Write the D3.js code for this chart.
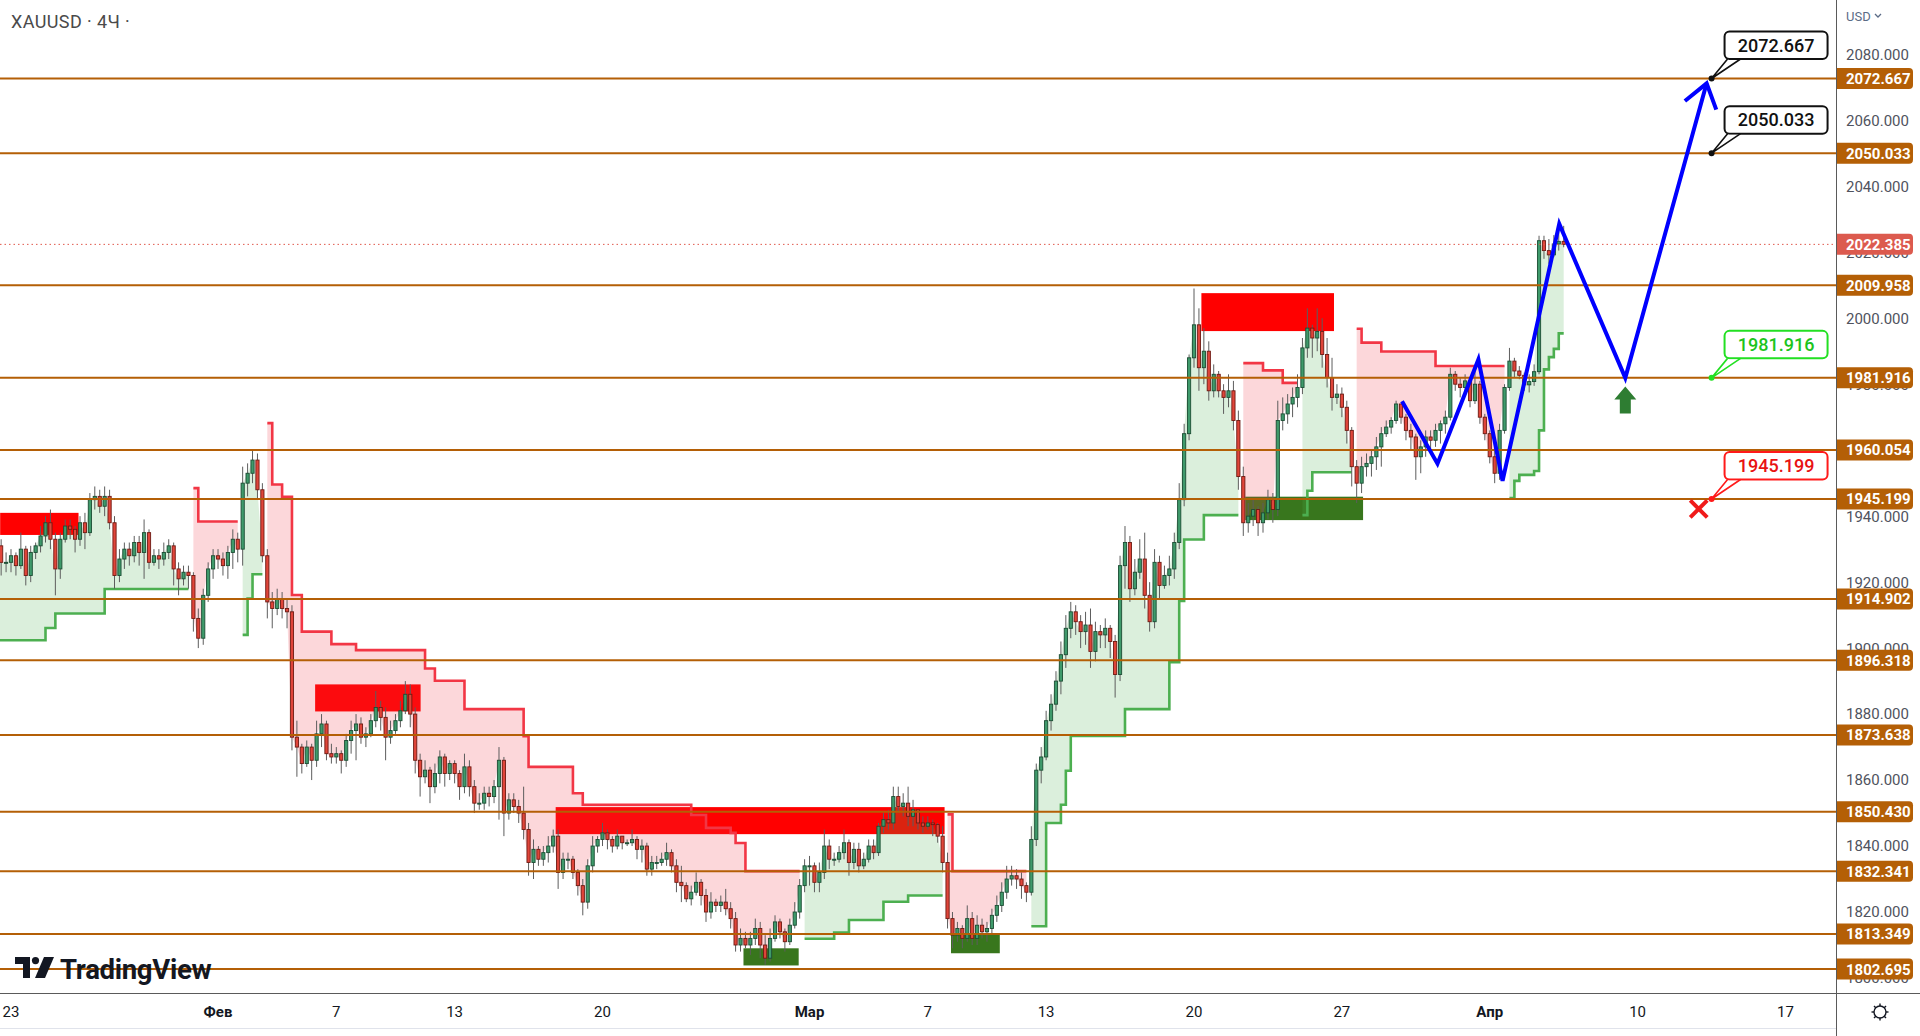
<!DOCTYPE html>
<html><head><meta charset="utf-8">
<script src="https://cdn.jsdelivr.net/npm/d3@7"></script>
<style>html,body{margin:0;padding:0;background:#fff;overflow:hidden}svg{display:block;font-family:Roboto,"Noto Sans",sans-serif}</style>
</head><body>
<svg id="chart" width="1920" height="1036"></svg>
<script>
// ---------------- DATA ----------------
const symbolTitle = "XAUUSD · 4Ч ·";
const firstOpen = 1928;
// 4H closes, from Jan 20 (last 3 bars) through Apr 5
const closes = [
1931,1926,1926,
1928,1925,1930,1922,1929,1931,
1934,1938,1933,1924,1933,1937,
1936,1933,1938,1935,1945,1946,
1943,1946,1938,1922,1927,1930,
1928,1932,1929,1935,1926,1928,
1927,1929,1931,1924,1921,1923,
1922,1909,1903,1916,1924,1928,
1927,1925,1929,1933,1930,1950,
1953,1957,1948,1928,1914,1912,
1915,1912,1911,1873,1870,1865,
1870,1866,1874,1877,1868,1867,
1868,1866,1872,1875,1877,1873,
1874,1878,1882,1879,1873,1875,
1878,1881,1886,1880,1866,1861,
1863,1858,1862,1867,1862,1865,
1862,1858,1864,1858,1853,1853,
1856,1855,1858,1866,1850,1854,
1852,1850,1845,1835,1839,1836,
1838,1840,1843,1832,1836,1836,
1832,1828,1823,1834,1840,1842,
1844,1842,1840,1843,1841,1841,
1842,1839,1840,1833,1835,1835,
1836,1838,1834,1829,1828,1824,
1826,1829,1825,1820,1823,1822,
1823,1821,1818,1810,1812,1810,
1812,1815,1810,1806,1812,1817,
1814,1811,1816,1820,1828,1834,
1834,1829,1832,1840,1836,1836,
1838,1841,1835,1839,1834,1836,
1840,1838,1846,1848,1847,1855,
1852,1853,1849,1851,1847,1846,
1847,1846.5,1843,1835,1818,1813,
1815,1812,1818,1812,1816,1814,
1815,1819,1822,1826,1830,1831,
1830,1828,1826,1842,1863,1867,
1878,1883,1890,1898,1906,1911,
1908,1905,1907,1899,1905,1904,
1906,1902,1892,1925,1932,1918,
1923,1927,1916,1908,1926,1919,
1922,1924,1932,1945,1965,1988,
1998,1985,1990,1978,1983,1978,
1976,1978,1969,1952,1938,1940,
1942,1938,1941,1945,1942,1969,
1971,1974,1976,1979,1991,1997,
1994,1996,1989,1982,1976,1977,
1973,1966,1955,1950,1955,1956,
1958,1961,1965,1967,1969,1974,
1970,1966,1964,1958,1961,1964,
1963,1966,1968,1970,1983,1980,
1979,1981,1975,1980,1970,1965,
1958,1953,1966,1979,1987,1984,
1982.7,1979.8,1980.8,1983.8,2023.5,2020.5,
2019.2,2022.5,2023.3,2022.385];
const highs = [
1935,1933,1929,
1930,1929,1935,1931,1931,1932,
1937,1940,1942,1935,1935,1939,
1939,1937,1940,1941,1947,1949,
1948,1949,1948,1940,1930,1932,
1932,1934,1934,1939,1936,1930,
1930,1932,1933,1932,1926,1925,
1925,1923,1912,1918,1926,1930,
1930,1929,1931,1936,1935,1955,
1956,1960,1959,1950,1930,1917,
1918,1917,1915,1913,1878,1871,
1872,1871,1878,1880,1878,1871,
1870,1869,1874,1878,1880,1879,
1876,1880,1887,1884,1882,1878,
1880,1884,1890,1889,1882,1868,
1866,1864,1865,1869,1868,1866,
1866,1863,1868,1866,1860,1856,
1858,1858,1860,1870,1867,1856,
1856,1854,1858,1847,1842,1840,
1840,1843,1845,1845,1838,1838,
1837,1833,1830,1836,1843,1843,
1847,1845,1843,1845,1843,1842,
1845,1843,1842,1841,1837,1837,
1838,1841,1839,1836,1834,1829,
1828,1832,1830,1827,1826,1824,
1825,1827,1823,1820,1815,1814,
1814,1818,1817,1813,1815,1819,
1818,1815,1818,1823,1830,1836,
1837,1835,1835,1845,1842,1838,
1840,1845,1842,1841,1841,1838,
1842,1842,1847,1850,1851,1858,
1858,1856,1858,1854,1851,1849,
1849,1848,1847,1846,1838,1820,
1817,1816,1822,1820,1819,1818,
1817,1821,1825,1829,1834,1834,
1833,1832,1829,1846,1865,1870,
1881,1886,1893,1902,1910,1914,
1913,1910,1911,1912,1908,1907,
1909,1907,1904,1928,1937,1934,
1927,1933,1935,1920,1930,1928,
1925,1928,1935,1950,1968,1989,
2009,2003,1997,1993,1986,1984,
1980,1983,1981,1972,1955,1944,
1945,1943,1944,1948,1947,1975,
1976,1977,1979,1983,1994,2003,
1998,2003,2000,1994,1988,1980,
1979,1975,1967,1957,1958,1959,
1960,1964,1967,1969,1970,1975,
1974,1971,1968,1965,1963,1966,
1966,1968,1969,1972,1985,1984,
1982,1983,1982,1984,1981,1971,
1966,1962,1968,1980,1991,1988,
1985.5,1983.5,1983,1986,2025,2025,
2024,2025.2,2029,2028];
const lows = [
1924,1922,1923,
1923,1922,1924,1919,1920,1927,
1929,1932,1930,1916,1921,1932,
1933,1929,1931,1930,1934,1942,
1941,1940,1936,1918,1920,1924,
1925,1926,1925,1921,1924,1925,
1924,1925,1927,1919,1916,1919,
1918,1905,1900,1901,1914,1921,
1924,1922,1921,1924,1926,1925,
1946,1950,1945,1926,1909,1906,
1910,1909,1906,1869,1861,1862,
1864,1860,1864,1870,1866,1865,
1865,1862,1864,1868,1866,1871,
1870,1873,1876,1875,1866,1871,
1874,1876,1880,1876,1862,1855,
1859,1853,1856,1859,1858,1860,
1859,1854,1856,1855,1850,1851,
1851,1852,1853,1848,1843,1848,
1850,1847,1842,1831,1830,1834,
1834,1835,1838,1827,1830,1833,
1830,1825,1819,1821,1832,1838,
1840,1839,1838,1839,1839,1840,
1840,1836,1835,1831,1831,1833,
1834,1834,1832,1826,1823,1823,
1822,1825,1822,1817,1818,1820,
1820,1819,1815,1808,1808,1809,
1807,1810,1806,1804,1805,1811,
1812,1808,1810,1815,1818,1826,
1828,1826,1826,1830,1833,1834,
1835,1836,1831,1833,1832,1833,
1835,1836,1837,1844,1845,1845,
1850,1849,1846,1846,1845,1844,
1845,1843,1841,1832,1815,1809,
1811,1809,1811,1810,1810,1812,
1811,1813,1817,1820,1824,1828,
1827,1824,1823,1825,1840,1859,
1866,1875,1881,1886,1894,1903,
1904,1900,1901,1894,1896,1900,
1900,1897,1885,1890,1918,1914,
1916,1921,1912,1905,1906,1915,
1918,1919,1921,1930,1943,1963,
1985,1978,1980,1975,1976,1976,
1971,1973,1966,1948,1934,1935,
1937,1934,1935,1939,1938,1940,
1966,1968,1970,1973,1977,1988,
1988,1990,1985,1979,1972,1974,
1970,1962,1949,1944,1947,1952,
1952,1954,1955,1964,1965,1968,
1968,1963,1960,1951,1953,1958,
1960,1961,1962,1965,1969,1978,
1976,1977,1973,1974,1968,1963,
1956,1950,1951,1965,1978,1982,
1981.5,1978,1977.5,1979.5,1983,2018,
2016.5,2018.5,2020.5,2021.5];
const barsPerDay = 6;
const barsBeforeFirstDay = 3;

// trailing-stop indicator: trend segments and stop levels
const trendStarts = [0, 40, 50, 55, 164, 193, 210, 253, 265, 276, 307];
const trendDirs   = ["up","down","up","down","up","down","up","down","up","down","up"];
const stopBars = [0,10,12,22, 40,41, 50,51,52,
  55,56,58,60,62,68,73,87,89,95,107,108,117,119,141,144,149,150,152,
  164,170,173,180,185, 193,194,
  210,213,216,217,218,229,238,240,241,245,
  253,257,261, 265,266,267, 276,277,281,292,
  307,308,309,312,313,314,315,316,317];
const stopValues = [1902.4,1906.1,1910.5,1917.9, 1948.5,1938.4, 1904,1915,1922.4,
  1968.2,1949.6,1945.9,1916.1,1905,1901.2,1899.4,1893.8,1890.1,1881.5,1873.3,1864,1856,1852.5,1849.4,1845.5,1844,1840.9,1832.4,
  1811.9,1813.8,1817.6,1823.1,1825, 1849.6,1832.4,
  1815.7,1847,1852.5,1862.8,1873.4,1881.5,1895.7,1914.3,1932.9,1940.3,
  1986.4,1984.2,1980.4, 1940.3,1947.7,1953.3, 1996.8,1992.6,1989.9,1985.5,
  1945.5,1950.7,1952.5,1953.7,1966,1984.5,1988.2,1990.7,1995.4];

// supply / demand zones (bar index range, price range)
const zoneFrom   = [0.8, 64.7, 113.5, 151.6, 193.7, 244.5, 253.4];
const zoneTo     = [16.7, 86.1, 192.4, 162.8, 203.6, 271.4, 277.3];
const zoneTop    = [1941.0, 1889.0, 1851.8, 1809.0, 1813.1, 2007.6, 1945.9];
const zoneBottom = [1934.3, 1880.8, 1843.6, 1803.8, 1807.5, 1996.1, 1938.8];
const zoneKind   = ["supply","supply","supply","demand","demand","supply","demand"];

// horizontal levels
const levelPrices = [2072.667, 2050.033, 2009.958, 1981.916, 1960.054, 1945.199, 1914.902, 1896.318, 1873.638, 1850.430, 1832.341, 1813.349, 1802.695];
const lastPrice = 2022.385;

// projection path (bar index, price)
const projBars   = [285.2, 292.4, 300.7, 305.6, 317.1, 330.5, 347.0];
const projPrices = [1974.85, 1955.9, 1987.5, 1950.7, 2028.6, 1981.916, 2071.2];

// callouts
const calloutPrices = [2072.667, 2050.033, 1981.916, 1945.199];
const calloutKinds  = ["target","target","entry","stop"];
const calloutBar = 348;
const buyArrow = {bar: 330.5, price: 1979.3};
const stopMark = {bar: 345.4, price: 1942.2};

// axes
const priceTicks = [1800,1820,1840,1860,1880,1900,1920,1940,1960,1980,2000,2020,2040,2060,2080];
const timeTickDays   = [0, 7, 11, 15, 20, 27, 31, 35, 40, 45, 50, 55, 60];
const timeTickLabels = ["23","Фев","7","13","20","Мар","7","13","20","27","Апр","10","17"];
const timeTickMonth  = [false,true,false,false,false,true,false,false,false,false,true,false,false];

// ---------------- DRAW ----------------
const W = 1920, H = 1036, plotR = 1836, plotB = 993;
const svg = d3.select("#chart");
const x = d3.scaleLinear().domain([0, 60]).range([11, 1785.5]);
const y = d3.scaleLinear().domain([2072.667, 1802.695]).range([78.5, 969.1]);
const bx = i => x((i - barsBeforeFirstDay) / barsPerDay);

svg.append("rect").attr("width", W).attr("height", H).attr("fill", "#fff");
svg.append("defs").append("clipPath").attr("id","plot")
  .append("rect").attr("x",0).attr("y",0).attr("width",plotR).attr("height",plotB);
const g = svg.append("g").attr("clip-path","url(#plot)");

const n = closes.length;
const opens = closes.map((c, i) => i === 0 ? firstOpen : closes[i - 1]);
const stopPer = [];
{ let s = 0; for (let i = 0; i < n; i++) { while (s + 1 < stopBars.length && stopBars[s + 1] <= i) s++; stopPer.push(stopValues[s]); } }

// zones
zoneFrom.forEach((f, k) => {
  g.append("rect").attr("x", bx(f)).attr("width", bx(zoneTo[k]) - bx(f))
    .attr("y", y(zoneTop[k])).attr("height", y(zoneBottom[k]) - y(zoneTop[k]))
    .attr("fill", zoneKind[k] === "supply" ? "#ff0000" : "#38761d");
});

// indicator fills and lines
const segs = trendStarts.map((s, k) => ({s, e: k + 1 < trendStarts.length ? trendStarts[k + 1] - 1 : n - 1, dir: trendDirs[k]}));
segs.forEach(sg => {
  const pts = [];
  for (let i = sg.s; i <= sg.e; i++) {
    pts.push([bx(i), y(stopPer[i])]);
    if (i < sg.e) pts.push([bx(i + 1), y(stopPer[i])]);
  }
  for (let i = sg.e; i >= sg.s; i--) pts.push([bx(i), y(closes[i])]);
  g.append("path").attr("d", d3.line()(pts) + "Z")
    .attr("fill", sg.dir === "up" ? "rgba(76,175,80,0.2)" : "rgba(242,54,69,0.2)");
});
segs.forEach(sg => {
  const idx = d3.range(sg.s, sg.e + 1);
  g.append("path").attr("d", d3.line().curve(d3.curveStepAfter).x(i => bx(i)).y(i => y(stopPer[i]))(idx))
    .attr("fill", "none").attr("stroke", sg.dir === "up" ? "#4caf50" : "#f23645").attr("stroke-width", 2.6);
});

// candles
const cg = g.append("g");
d3.range(n).forEach(i => {
  const o = opens[i], c = closes[i], up = c >= o, cx = bx(i);
  cg.append("line").attr("x1", cx).attr("x2", cx).attr("y1", y(highs[i])).attr("y2", y(lows[i]))
    .attr("stroke", "#5d5d5d").attr("stroke-width", 1);
  const top = y(Math.max(o, c)), bot = y(Math.min(o, c));
  cg.append("rect").attr("x", cx - 1.6).attr("width", 3.2).attr("y", top).attr("height", Math.max(1, bot - top))
    .attr("fill", up ? "#3f9a6b" : "#e0453a").attr("stroke", up ? "#1b4d33" : "#6e1a12").attr("stroke-width", 0.9);
});

// level lines
levelPrices.forEach(p => {
  g.append("line").attr("x1", 0).attr("x2", plotR).attr("y1", y(p)).attr("y2", y(p))
    .attr("stroke", "#b45f06").attr("stroke-width", 2);
});
// last price dotted line
g.append("line").attr("x1", 0).attr("x2", plotR).attr("y1", y(lastPrice)).attr("y2", y(lastPrice))
  .attr("stroke", "#e0584c").attr("stroke-width", 1).attr("stroke-dasharray", "1.5,3");

// projection path
const projPts = projBars.map((b, k) => [bx(b), y(projPrices[k])]);
g.append("path").attr("d", d3.line()(projPts)).attr("fill", "none").attr("stroke", "#0000ff")
  .attr("stroke-width", 4).attr("stroke-linejoin", "miter");
{
  const [x1, y1] = projPts[projPts.length - 2], [x2, y2] = projPts[projPts.length - 1];
  const ang = Math.atan2(y1 - y2, x1 - x2), L = 28, a = 0.62;
  const w1 = [x2 + L * Math.cos(ang + a), y2 + L * Math.sin(ang + a)];
  const w2 = [x2 + L * Math.cos(ang - a), y2 + L * Math.sin(ang - a)];
  g.append("path").attr("d", d3.line()([w1, [x2, y2], w2])).attr("fill", "none")
    .attr("stroke", "#0000ff").attr("stroke-width", 4);
}

// buy arrow
{
  const ax = bx(buyArrow.bar), ay = y(buyArrow.price);
  g.append("path").attr("d", `M${ax},${ay} L${ax+11},${ay+13} L${ax+5.5},${ay+13} L${ax+5.5},${ay+27} L${ax-5.5},${ay+27} L${ax-5.5},${ay+13} L${ax-11},${ay+13} Z`)
    .attr("fill", "#2e7d32");
}
// stop mark
{
  const sx = bx(stopMark.bar), sy = y(stopMark.price), r = 8.5;
  g.append("path").attr("d", `M${sx-r},${sy-r}L${sx+r},${sy+r}M${sx+r},${sy-r}L${sx-r},${sy+r}`)
    .attr("stroke", "#f01a1a").attr("stroke-width", 4);
}

// callouts
const calloutStyle = {target: {stroke: "#111", text: "#111"}, entry: {stroke: "#22e022", text: "#1cc41c"}, stop: {stroke: "#ff1a1a", text: "#e81212"}};
calloutPrices.forEach((p, k) => {
  const st = calloutStyle[calloutKinds[k]];
  const ax = bx(calloutBar), ay = y(p);
  const bx0 = ax + 13, bw = 103, bb = ay - 19.5, bh = 27.5;
  const cgp = svg.append("g");
  cgp.append("rect").attr("x", bx0).attr("y", bb - bh).attr("width", bw).attr("height", bh).attr("rx", 5)
    .attr("fill", "#fff").attr("stroke", st.stroke).attr("stroke-width", 2);
  cgp.append("path").attr("d", `M${ax},${ay} L${bx0 + 3},${bb + 1.2} L${bx0 + 16},${bb + 1.2} Z`).attr("fill", "#fff");
  cgp.append("path").attr("d", `M${bx0 + 3},${bb} L${ax},${ay} L${bx0 + 16},${bb}`).attr("fill", "none")
    .attr("stroke", st.stroke).attr("stroke-width", 1.6);
  cgp.append("circle").attr("cx", ax).attr("cy", ay).attr("r", 3).attr("fill", st.stroke);
  cgp.append("text").attr("x", bx0 + bw / 2).attr("y", bb - bh / 2).attr("dy", "0.36em").attr("text-anchor", "middle")
    .attr("font-size", 18).attr("font-weight", 500).attr("fill", st.text).text(p.toFixed(3));
});

// title
svg.append("text").attr("x", 11).attr("y", 28).attr("font-size", 18).attr("fill", "#4a4a4a")
  .attr("letter-spacing", 0.4).text(symbolTitle);

// TradingView logo
{
  const lg = svg.append("g").attr("transform", "translate(15,957)").attr("fill", "#131722");
  lg.append("path").attr("d", "M0,0 H15 V21 H8 V7 H0 Z");
  lg.append("circle").attr("cx", 20.5).attr("cy", 3.6).attr("r", 3.6);
  lg.append("path").attr("d", "M29,0 H39 L30,21 H20 Z");
  svg.append("text").attr("x", 60).attr("y", 979).attr("font-size", 27.5).attr("font-weight", 700)
    .attr("fill", "#131722").attr("letter-spacing", -0.3).text("TradingView");
}

// axes frame
svg.append("line").attr("x1", plotR + 0.5).attr("x2", plotR + 0.5).attr("y1", 0).attr("y2", H).attr("stroke", "#5a5a5a");
svg.append("line").attr("x1", 0).attr("x2", W).attr("y1", plotB + 0.5).attr("y2", plotB + 0.5).attr("stroke", "#5a5a5a");
svg.append("line").attr("x1", 0).attr("x2", plotR).attr("y1", 1028.5).attr("y2", 1028.5).attr("stroke", "#e0e3eb");

// price ticks
priceTicks.forEach(p => {
  svg.append("text").attr("x", 1846).attr("y", y(p)).attr("dy", "0.36em").attr("font-size", 15)
    .attr("fill", "#50535e").text(p.toFixed(3));
});
svg.append("text").attr("x", 1846).attr("y", 21).attr("font-size", 13).attr("fill", "#5b6b86").text("USD");
svg.append("path").attr("d", "M1875,14 l3,3 l3,-3").attr("fill", "none").attr("stroke", "#5b6b86").attr("stroke-width", 1.3);

// level labels
const labelShape = (yc, col) => svg.append("path")
  .attr("d", `M${plotR + 1},${yc - 10.5} H1909 Q1913,${yc - 10.5} 1913,${yc - 6.5} V${yc + 6.5} Q1913,${yc + 10.5} 1909,${yc + 10.5} H${plotR + 1} Z`)
  .attr("fill", col);
levelPrices.forEach(p => {
  labelShape(y(p), "#b45f06");
  svg.append("text").attr("x", 1846).attr("y", y(p)).attr("dy", "0.36em").attr("font-size", 15).attr("font-weight", 700)
    .attr("fill", "#fff").text(p.toFixed(3));
});
labelShape(y(lastPrice), "#dc5a4e");
svg.append("text").attr("x", 1846).attr("y", y(lastPrice)).attr("dy", "0.36em").attr("font-size", 15).attr("font-weight", 700)
  .attr("fill", "#fff").text(lastPrice.toFixed(3));

// time ticks
timeTickDays.forEach((d, k) => {
  svg.append("text").attr("x", x(d)).attr("y", 1012).attr("dy", "0.36em").attr("text-anchor", "middle")
    .attr("font-size", 15).attr("font-weight", timeTickMonth[k] ? 700 : 400).attr("fill", "#131722").text(timeTickLabels[k]);
});

// settings gear
{
  const gx = 1880, gy = 1012, gg = svg.append("g").attr("stroke", "#131722").attr("fill", "none").attr("stroke-width", 1.4);
  gg.append("circle").attr("cx", gx).attr("cy", gy).attr("r", 6);
  d3.range(8).forEach(k => {
    const a = k * Math.PI / 4;
    gg.append("line").attr("x1", gx + 6 * Math.cos(a)).attr("y1", gy + 6 * Math.sin(a))
      .attr("x2", gx + 8.5 * Math.cos(a)).attr("y2", gy + 8.5 * Math.sin(a));
  });
}
</script>
</body></html>
